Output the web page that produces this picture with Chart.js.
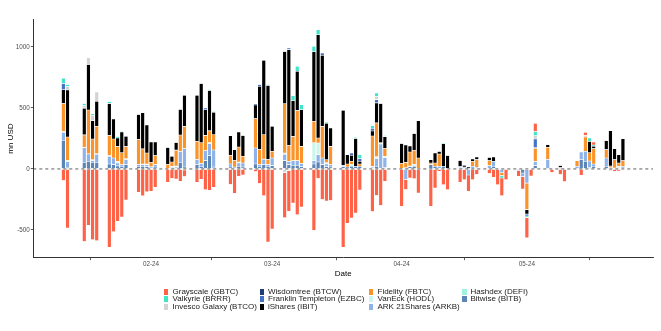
<!DOCTYPE html>
<html><head><meta charset="utf-8">
<script src="https://cdn.jsdelivr.net/npm/chart.js@4.4.1/dist/chart.umd.min.js"></script>
<style>
html,body{margin:0;padding:0;background:#fff;}
#wrap{position:relative;width:661px;height:331px;font-family:"Liberation Sans",Arial,sans-serif;}
#c{position:absolute;left:0;top:0;}
#legend{position:absolute;left:0;top:0;width:661px;height:331px;pointer-events:none;}
.item{position:absolute;font-size:8px;line-height:9px;color:#1a1a1a;white-space:nowrap;}
.key{position:absolute;width:4.5px;height:6px;}
</style></head>
<body><div id="wrap"><canvas id="c" width="661" height="331"></canvas><div id="legend"></div></div>
<script>
// ---- data (mn USD, daily net flows) ----
const dates = [
 '2024-01-11','2024-01-12','2024-01-16','2024-01-17','2024-01-18','2024-01-19','2024-01-22','2024-01-23','2024-01-24','2024-01-25','2024-01-26','2024-01-29','2024-01-30','2024-01-31',
 '2024-02-01','2024-02-02','2024-02-05','2024-02-06','2024-02-07','2024-02-08','2024-02-09','2024-02-12','2024-02-13','2024-02-14','2024-02-15','2024-02-16','2024-02-20','2024-02-21','2024-02-22','2024-02-23','2024-02-26','2024-02-27','2024-02-28','2024-02-29',
 '2024-03-01','2024-03-04','2024-03-05','2024-03-06','2024-03-07','2024-03-08','2024-03-11','2024-03-12','2024-03-13','2024-03-14','2024-03-15','2024-03-18','2024-03-19','2024-03-20','2024-03-21','2024-03-22','2024-03-25','2024-03-26','2024-03-27','2024-03-28',
 '2024-04-01','2024-04-02','2024-04-03','2024-04-04','2024-04-05','2024-04-08','2024-04-09','2024-04-10','2024-04-11','2024-04-12','2024-04-15','2024-04-16','2024-04-17','2024-04-18','2024-04-19','2024-04-22','2024-04-23','2024-04-24','2024-04-25','2024-04-26','2024-04-29','2024-04-30',
 '2024-05-01','2024-05-02','2024-05-03','2024-05-06','2024-05-07','2024-05-08','2024-05-09','2024-05-10','2024-05-13','2024-05-14','2024-05-15','2024-05-16','2024-05-17','2024-05-20','2024-05-21','2024-05-22','2024-05-23','2024-05-24'
];

const gbtc = [
 -95,-484,-594,-462,-580,-588,-641,-515,-429,-394,-255,-192,-221,-188,
 -183,-150,-110,-78,-82,-101,-55,-110,-85,-170,-175,-150,-128,-199,-60,-50,-22,-120,-219,-599,
 -492,-370,-335,-279,-375,-313,-503,-79,-250,-262,-258,-642,-445,-402,-361,-172,-350,-217,-300,-101,
 -306,-82,-75,-80,-197,-306,-156,-19,-129,-170,-110,-88,-133,-88,-45,-38,-68,-130,-145,-88,-45,-101,
 -168,-58,68,4,-30,0,-46,-104,0,-52,27,0,25,8,-14,-19,-18,-5
];
const brrr = [
 43,19,16,0,12,0,15,0,14,8,0,0,0,0,
 0,0,0,0,0,8,0,0,0,0,10,8,0,0,0,0,0,0,0,0,
 0,0,0,41,41,41,45,41,0,10,0,5,0,0,11,33,22,27,0,10,
 0,5,0,0,0,0,0,5,8,0,0,0,0,0,0,0,0,0,-20,0,0,0,
 -12,0,35,0,0,0,0,0,0,0,0,27,10,0,0,0,0,0
];
const btco = [
 0,27,22,57,45,75,0,0,0,0,0,0,0,0,
 0,0,0,0,0,0,-8,0,0,0,0,0,0,0,0,0,0,0,0,0,
 0,-30,-12,0,0,0,0,0,0,0,0,0,0,0,0,0,0,27,0,0,
 0,0,0,0,0,0,0,0,0,0,0,0,0,0,0,0,0,0,0,0,0,0,
 0,0,27,6,0,0,0,0,0,0,11,0,0,0,0,0,0,0
];
const btcw = [
 1,0,0,0,0,0,0,0,0,0,0,0,0,0,
 0,0,0,0,0,0,0,0,0,0,0,0,0,0,0,0,0,0,0,0,
 0,0,0,0,0,0,0,0,0,0,0,0,0,0,0,0,0,0,0,0,
 0,0,0,0,0,0,0,0,0,0,0,0,0,0,0,0,0,0,0,0,0,0,
 0,0,0,0,0,0,0,0,0,0,0,0,0,0,0,0,0,0
];
const ezbc = [
 52,0,0,0,0,0,0,0,0,0,0,0,0,0,
 0,0,0,0,0,0,0,0,0,14,0,0,0,0,0,0,11,15,0,8,
 0,0,14,0,0,0,0,0,19,0,0,0,0,19,0,22,22,27,0,0,
 0,0,0,0,0,0,0,0,0,0,0,0,0,0,0,0,0,0,0,0,0,0,
 -15,0,68,0,0,0,0,0,0,0,0,0,0,0,0,0,0,0
];
const ibit = [
 112,386,219,372,150,205,264,164,70,170,85,205,296,230,
 168,112,140,47,62,210,255,377,486,210,330,185,161,87,123,170,112,518,610,606,
 205,428,785,292,322,300,570,846,582,300,150,451,76,49,227,22,41,164,323,95,
 165,142,49,140,306,27,82,22,184,110,50,15,16,19,22,27,35,0,0,0,0,0,
 -37,0,11,20,0,0,14,8,0,0,0,93,20,74,290,90,68,180
];
const fbtc = [
 230,192,101,360,170,225,164,155,123,96,100,205,123,90,
 35,74,36,36,130,135,183,150,170,125,96,125,71,55,123,55,240,123,200,41,
 55,404,130,199,410,140,175,41,259,25,150,0,25,27,0,19,250,278,0,68,
 44,44,115,115,90,14,27,100,0,0,0,0,0,41,63,41,0,0,-23,0,0,0,
 -217,0,104,101,0,0,0,0,46,0,117,68,125,68,14,68,27,46
];
const hodl = [
 5,8,5,0,5,5,5,0,10,0,6,0,5,5,
 0,0,0,0,5,0,0,0,0,0,10,0,0,0,8,0,0,0,0,0,
 0,10,0,0,0,0,145,95,0,10,0,0,0,14,0,0,5,14,9,10,
 0,0,5,14,0,0,0,0,0,0,0,0,0,0,0,0,0,0,0,0,0,0,
 0,0,0,0,0,0,0,0,0,0,0,0,0,0,10,8,14,0
];
const arkb = [
 66,47,118,60,15,65,63,55,25,14,41,14,14,15,
 10,19,0,8,5,88,150,41,22,80,96,140,25,10,27,33,131,14,45,14,
 63,50,27,38,38,25,30,60,55,20,19,10,0,0,0,0,10,63,200,80,
 0,-87,0,0,0,0,0,22,0,0,10,15,-50,22,14,27,41,0,-31,0,-15,-30,
 -110,5,35,77,0,4,0,0,22,65,82,55,19,68,0,0,8,14
];
const defi = [
 0,0,0,0,0,0,0,0,0,0,0,0,0,0,
 0,0,0,0,0,0,0,0,0,0,0,0,0,0,0,0,0,0,0,0,
 0,0,0,0,0,0,0,0,0,0,0,0,0,0,0,0,0,0,0,0,
 0,0,0,0,0,0,0,0,0,0,0,0,0,0,0,0,0,0,0,0,0,0,
 0,0,0,0,0,0,0,0,0,0,0,0,0,0,0,0,0,0
];
const bitb = [
 235,14,55,63,55,55,41,35,25,22,36,22,22,20,
 8,16,0,13,14,55,16,36,22,70,110,15,16,6,22,16,41,22,35,22,
 27,70,35,30,30,20,40,57,35,20,16,20,16,22,22,22,5,22,5,12,
 0,10,19,22,0,35,22,0,22,0,10,0,0,0,0,0,22,0,0,0,8,-33,
 -6,7,27,0,0,6,14,0,0,75,63,10,22,22,0,0,0,8
];

const monthTicks = ['2024-02-01','2024-03-01','2024-04-01','2024-05-01'];
const monthTickLabels = ['02-24','03-24','04-24','05-24'];
const yTicks = [-500, 0, 500, 1000];

// stacking order: first = closest to zero
const series = [
 {name:'Bitwise (BITB)', data:bitb, color:'#5C84B4'},
 {name:'Hashdex (DEFI)', data:defi, color:'#A2F1E0'},
 {name:'ARK 21Shares (ARKB)', data:arkb, color:'#8DB3E8'},
 {name:'VanEck (HODL)', data:hodl, color:'#CBF6EC'},
 {name:'Fidelity (FBTC)', data:fbtc, color:'#FB9329'},
 {name:'iShares (IBIT)', data:ibit, color:'#000000'},
 {name:'Franklin Templeton (EZBC)', data:ezbc, color:'#4472C4'},
 {name:'Wisdomtree (BTCW)', data:btcw, color:'#1F3D73'},
 {name:'Invesco Galaxy (BTCO)', data:btco, color:'#D3D3D3'},
 {name:'Valkyrie (BRRR)', data:brrr, color:'#40E5C8'},
 {name:'Grayscale (GBTC)', data:gbtc, color:'#FF6347'}
];
const legendOrder = ['Grayscale (GBTC)','Valkyrie (BRRR)','Invesco Galaxy (BTCO)','Wisdomtree (BTCW)','Franklin Templeton (EZBC)','iShares (IBIT)','Fidelity (FBTC)','VanEck (HODL)','ARK 21Shares (ARKB)','Hashdex (DEFI)','Bitwise (BITB)'];

// ---- helpers ----
const BASE = Date.UTC(2024,0,1);
function dayNum(s){const [y,m,d]=s.split('-').map(Number);return (Date.UTC(y,m-1,d)-BASE)/86400000;}
const xs = dates.map(dayNum);
const xMin = xs[0] - 0.45 - 0.05*(xs[xs.length-1]-xs[0]+0.9);
const xMax = xs[xs.length-1] + 0.45 + 0.05*(xs[xs.length-1]-xs[0]+0.9);

const datasets = series.map(s => ({
  label: s.name,
  data: xs.map((x,i) => ({x, y: s.data[i] === 0 ? null : s.data[i]})),
  backgroundColor: s.color,
  borderColor: 'rgba(255,255,255,0.55)',
  borderWidth: 0.3,
  borderSkipped: false,
  categoryPercentage: 1.0,
  barPercentage: 0.93
}));

const zeroLine = {
  id:'zeroLine',
  afterDatasetsDraw(chart){
    const {ctx, chartArea:a, scales:{y}} = chart;
    const py = y.getPixelForValue(0);
    ctx.save();
    ctx.strokeStyle = '#333';
    ctx.lineWidth = 0.8;
    ctx.setLineDash([3,3]);
    ctx.beginPath(); ctx.moveTo(a.left, py); ctx.lineTo(a.right, py); ctx.stroke();
    ctx.restore();
  }
};

const tickFont = {family:'"Liberation Sans", Arial, sans-serif', size:6.3};
const titleFont = {family:'"Liberation Sans", Arial, sans-serif', size:8};

new Chart(document.getElementById('c'), {
  type:'bar',
  data:{datasets},
  options:{
    responsive:false, animation:false, devicePixelRatio:1,
    layout:{padding:{left:0, top:19.5, right:8, bottom:51.3}},
    plugins:{legend:{display:false}, tooltip:{enabled:false}},
    scales:{
      x:{
        type:'linear', stacked:true, offset:false, min:xMin, max:xMax,
        afterBuildTicks(sc){ sc.ticks = monthTicks.map(d => ({value: dayNum(d)})); },
        afterFit(sc){ sc.height = 22; },
        ticks:{autoSkip:false, maxRotation:0, padding:0.5, color:'#4d4d4d', font:tickFont,
          callback(v){ const i = monthTicks.findIndex(d => dayNum(d) === v); return i >= 0 ? monthTickLabels[i] : ''; }},
        grid:{display:true, drawOnChartArea:false, drawTicks:true, tickLength:2.5, color:'#333', lineWidth:0.8},
        border:{display:true, color:'#333', width:1},
        title:{display:true, text:'Date', color:'#000', font:titleFont, padding:{top:0, bottom:1.6}}
      },
      y:{
        type:'linear', stacked:true, min:-727, max:1224,
        afterBuildTicks(sc){ sc.ticks = yTicks.map(v => ({value:v})); },
        afterFit(sc){ sc.width = 33.3; },
        ticks:{padding:1, color:'#4d4d4d', font:tickFont, callback(v){ return String(v); }},
        grid:{display:true, drawOnChartArea:false, drawTicks:true, tickLength:2.5, color:'#333', lineWidth:0.8},
        border:{display:true, color:'#333', width:1},
        title:{display:true, text:'mn USD', color:'#000', font:titleFont, padding:{top:6, bottom:0}}
      }
    }
  },
  plugins:[zeroLine]
});

// ---- legend (ggplot style: 3 rows, column-major) ----
const legend = document.getElementById('legend');
const colKeyX = [163.5, 259.5, 368.5, 462];
const colTextX = [172.5, 268, 377.5, 470.5];
const rowY = [291.7, 299.2, 306.7];
legendOrder.forEach((name, k) => {
  const s = series.find(t => t.name === name);
  const col = Math.floor(k / 3), row = k % 3;
  const key = document.createElement('div');
  key.className = 'key';
  key.style.left = colKeyX[col] + 'px';
  key.style.top = (rowY[row] - 3) + 'px';
  key.style.background = s.color;
  legend.appendChild(key);
  const t = document.createElement('div');
  t.className = 'item';
  t.style.left = colTextX[col] + 'px';
  t.style.top = (rowY[row] - 4.8) + 'px';
  t.textContent = name;
  legend.appendChild(t);
});
</script>
</body></html>
